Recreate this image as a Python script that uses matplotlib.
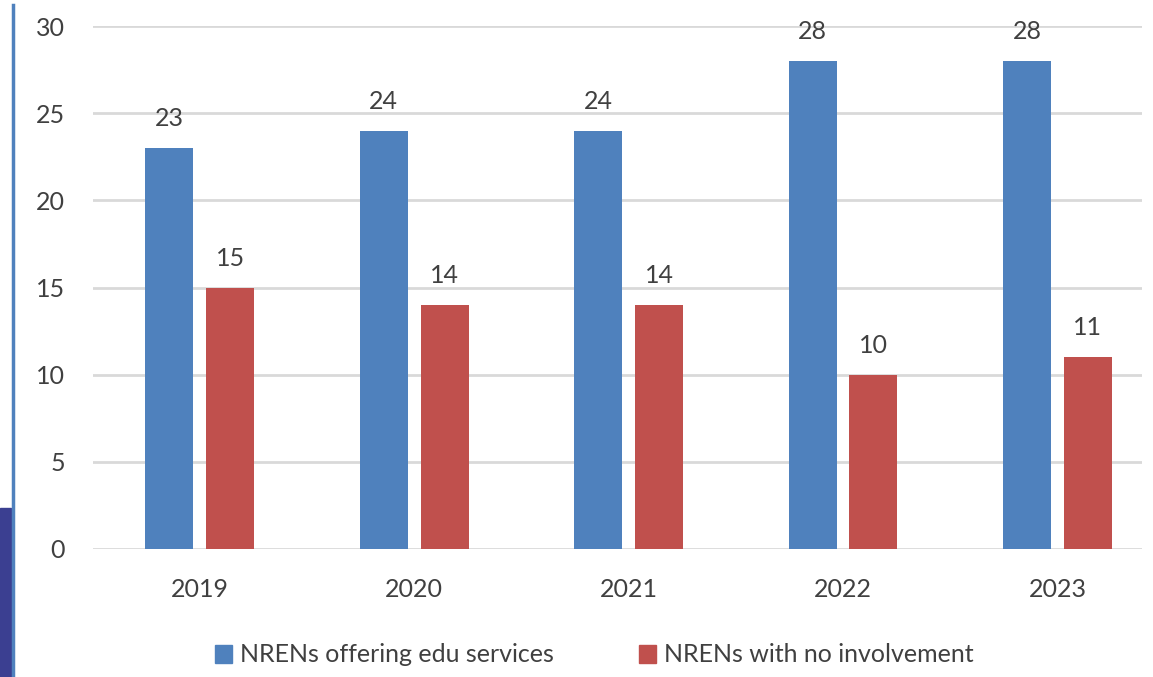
import matplotlib
matplotlib.use("Agg")
import matplotlib.pyplot as plt
import numpy as np
from matplotlib.patches import Rectangle
from matplotlib.lines import Line2D

years = ["2019", "2020", "2021", "2022", "2023"]
offering = [23, 24, 24, 28, 28]
no_involvement = [15, 14, 14, 10, 11]
series_names = ["NRENs offering edu services", "NRENs with no involvement"]
yticks = [0, 5, 10, 15, 20, 25, 30]

BLUE = "#4f81bd"
RED = "#c0504d"
TXT = "#404040"
GRID = "#d9d9d9"

plt.rcParams['font.family'] = ['Lato', 'DejaVu Sans']

W, H = 1153, 677
fig = plt.figure(figsize=(W / 100, H / 100), dpi=100)
ax = fig.add_axes([93 / W, (H - 549) / H, (1142 - 93) / W, (549 - 26) / H])

x = np.arange(len(years))
bw = 0.224
off = 0.142
b1 = ax.bar(x - off, offering, bw, color=BLUE, zorder=3)
b2 = ax.bar(x + off, no_involvement, bw, color=RED, zorder=3)

for bars, vals in ((b1, offering), (b2, no_involvement)):
    for r, v in zip(bars, vals):
        ax.annotate(str(v), (r.get_x() + r.get_width() / 2, v), xytext=(0, 22),
                    textcoords="offset pixels", ha="center", va="baseline",
                    fontsize=18, color=TXT)

ax.set_ylim(0, 30)
ax.set_xlim(-0.497, 4.394)
ax.set_yticks(yticks)
ax.set_xticks(x)
ax.set_xticklabels(years)
ax.yaxis.grid(True, color=GRID, linewidth=2, zorder=0)
ax.set_axisbelow(True)
for s in ax.spines.values():
    s.set_visible(False)
ax.tick_params(axis="both", length=0, labelsize=18, colors=TXT)
ax.tick_params(axis="y", pad=20)
ax.tick_params(axis="x", pad=21)

handles = [Rectangle((0, 0), 1, 1, color=BLUE), Rectangle((0, 0), 1, 1, color=RED)]
fig.legend(handles, series_names, loc="center", bbox_to_anchor=(594 / W, (H - 655) / H),
           ncol=2, frameon=False, fontsize=18, labelcolor=TXT, handlelength=0.7,
           handleheight=0.7, handletextpad=0.3, columnspacing=3.4,
           borderpad=0, borderaxespad=0)

# left-edge decorations
fig.add_artist(Line2D([12.5 / W, 12.5 / W], [0, (H - 5) / H], color=BLUE, linewidth=2.5,
                      transform=fig.transFigure))
fig.add_artist(Rectangle((0, 0), 11 / W, (H - 508) / H, color="#3b3f91",
                         transform=fig.transFigure))

fig.savefig("out.png", dpi=100)
